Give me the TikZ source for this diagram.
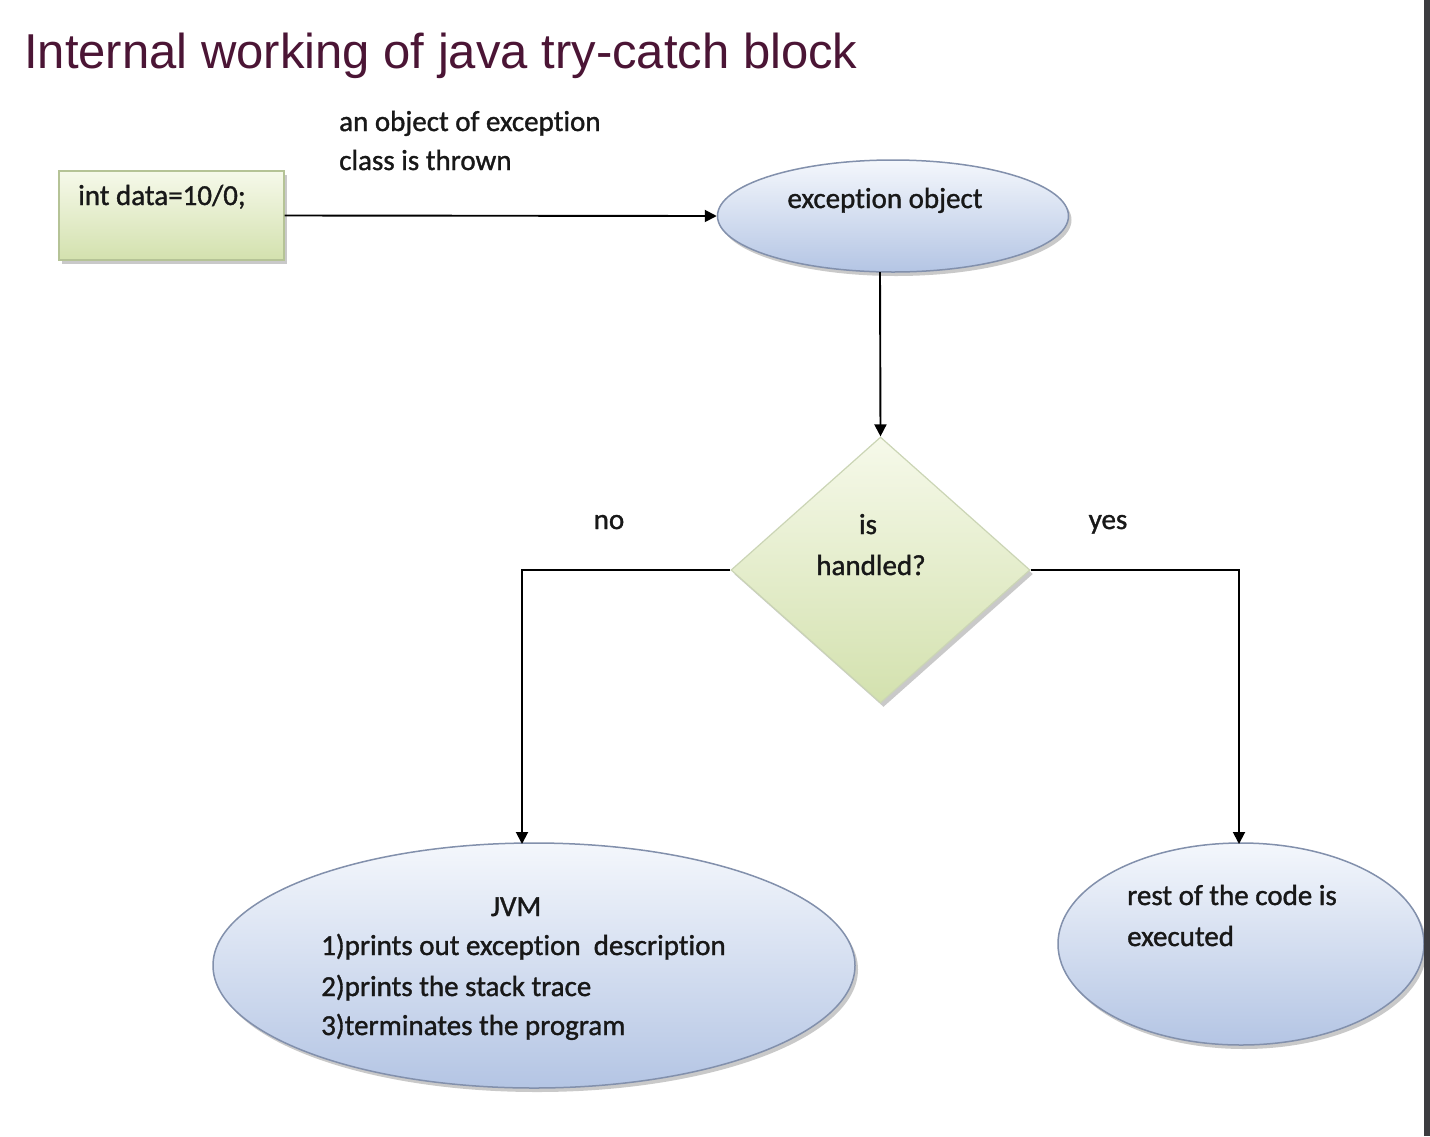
\documentclass[tikz,border=0pt]{standalone}
\usepackage{fontspec}
\setmainfont{Carlito}[Ligatures={NoCommon},FakeBold=1.2]
\newfontfamily\titlefont{Liberation Sans}
\usetikzlibrary{shapes.geometric,arrows.meta,shadows,calc}
\definecolor{titlecol}{HTML}{4B1535}
\definecolor{textcol}{HTML}{181818}
\definecolor{greentop}{HTML}{F6F9EA}
\definecolor{greenbot}{HTML}{D3E1AE}
\definecolor{greenline}{HTML}{B5C396}
\definecolor{bluetop}{HTML}{F4F7FC}
\definecolor{bluebot}{HTML}{B4C5E4}
\definecolor{blueline}{HTML}{8290AC}
\definecolor{barcol}{HTML}{3C3C40}
\begin{document}
\begin{tikzpicture}[x=1pt,y=-1pt,
  lbl/.style={font=\fontsize{29}{35}\selectfont, text=textcol, inner sep=0pt},
  lineconn/.style={line width=1.9pt, black},
  arr/.style={lineconn, -{Triangle[length=12pt,width=12pt]}},
  shade/.style={drop shadow={shadow xshift=3pt, shadow yshift=-4pt, fill=black!35, opacity=0.6}},
  greenbox/.style={shade, draw=greenline, line width=1.2pt, top color=greentop, bottom color=greenbot, inner sep=0pt},
  blueell/.style={shade, ellipse, draw=blueline, line width=1.5pt, top color=bluetop, bottom color=bluebot, inner sep=0pt},
]
\useasboundingbox (0,0) rectangle (1430,1136);
\fill[white] (0,0) rectangle (1430,1136);

% title
\node[anchor=base west, inner sep=0pt, text=titlecol, font=\titlefont\fontsize{49}{59}\selectfont] (title) at (24,68) {Internal working of java try-catch block};

% shapes
\node[greenbox, rectangle, minimum width=225pt, minimum height=89pt] (box) at (171.5,215.5) {};
\node[blueell, minimum width=351pt, minimum height=112pt] (exc) at (893,216) {};
\node[greenbox, diamond, minimum width=299pt, minimum height=266pt, draw=greenline!70] (dia) at (880.5,570) {};
\node[blueell, minimum width=642pt, minimum height=245pt] (jvm) at (534,965.5) {};
\node[blueell, minimum width=366pt, minimum height=202pt] (rest) at (1241,944) {};

% texts
\node[lbl, anchor=base west] (t1) at (78,205) {int data=10/0;};
\node[lbl, anchor=base west] (t2a) at (339,131) {an object of exception};
\node[lbl, anchor=base west] (t2b) at (339,170) {class is thrown};
\node[lbl, anchor=base] (t3) at (885,208) {exception object};
\node[lbl, anchor=base] (t4a) at (868,534) {is};
\node[lbl, anchor=base] (t4b) at (871,575) {handled?};
\node[lbl, anchor=base] (tno) at (609,529) {no};
\node[lbl, anchor=base] (tyes) at (1108,529) {yes};
\node[lbl, anchor=base] (t5) at (516,916) {JVM};
\node[lbl, anchor=base west] (t6) at (321,955) {1)prints out exception\ \ description};
\node[lbl, anchor=base west] (t7) at (321,996) {2)prints the stack trace};
\node[lbl, anchor=base west] (t8) at (321,1035) {3)terminates the program};
\node[lbl, anchor=base west] (t9) at (1127,905) {rest of the code is};
\node[lbl, anchor=base west] (t10) at (1127,946) {executed};

% connectors
\coordinate (excbot) at (880,272);
\coordinate (jvmtop) at (522,844);
\coordinate (resttop) at (1239,844);
\draw[arr] (box.east) -- (exc.west);
\draw[arr] (excbot) -- (dia.north);
\draw[arr] (dia.west) -| (jvmtop);
\draw[arr] (dia.east) -| (resttop);

% right edge bar
\fill[barcol] (1424,0) rectangle (1430,1136);
\end{tikzpicture}
\end{document}
